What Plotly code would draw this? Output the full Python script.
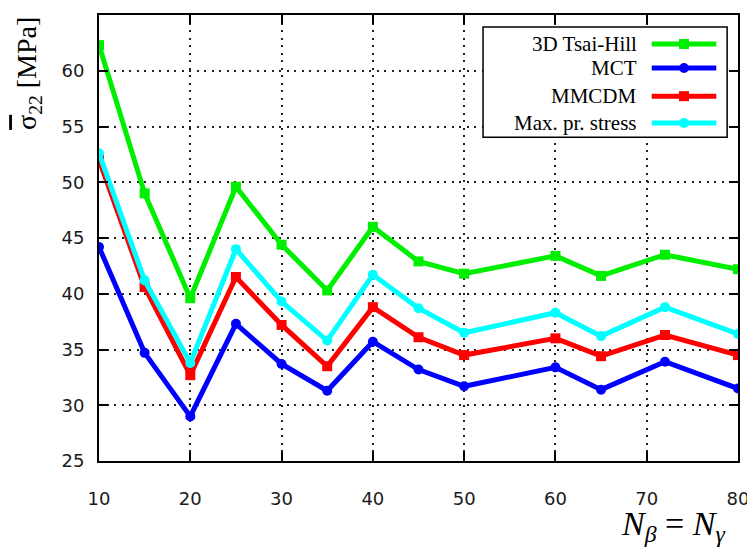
import plotly.graph_objects as go

N = [10, 15, 20, 25, 30, 35, 40, 45, 50, 60, 65, 72, 80]
tsai_hill = [62.3, 49.0, 39.6, 49.6, 44.4, 40.3, 46.0, 42.9, 41.8, 43.4, 41.6, 43.5, 42.2]
mct = [44.2, 34.7, 29.0, 37.3, 33.7, 31.3, 35.7, 33.2, 31.7, 33.4, 31.4, 33.9, 31.5]
mmcdm = [52.0, 40.6, 32.7, 41.5, 37.2, 33.5, 38.8, 36.1, 34.5, 36.0, 34.4, 36.3, 34.5]
max_pr = [52.6, 41.2, 33.8, 44.0, 39.3, 35.8, 41.7, 38.7, 36.5, 38.3, 36.2, 38.8, 36.4]

series = [
    ("3D Tsai-Hill", tsai_hill, "#00ee00", "square", 10),
    ("MCT", mct, "#0000ff", "circle", 10),
    ("MMCDM", mmcdm, "#ff0000", "square", 10),
    ("Max. pr. stress", max_pr, "#00ffff", "circle", 10),
]

x_ticks = [10, 20, 30, 40, 50, 60, 70, 80]
y_ticks = [25, 30, 35, 40, 45, 50, 55, 60, 65]

fig = go.Figure()
for name, vals, col, sym, ms in series:
    fig.add_trace(go.Scatter(
        x=N, y=vals, mode="lines+markers", name=name,
        line=dict(color=col, width=5),
        marker=dict(color=col, symbol=sym, size=ms),
        showlegend=False,
    ))

tickfont = dict(family="DejaVu Sans", size=18, color="#1a1a1a")
common = dict(showgrid=True, gridcolor="#222222", griddash="2px,5.5px", gridwidth=2,
              showline=True, linecolor="black", linewidth=2, mirror="ticks",
              ticks="inside", ticklen=9, tickwidth=2, tickcolor="black", tickfont=tickfont,
              zeroline=False, automargin=False)
fig.update_xaxes(range=[10, 80], tickvals=x_ticks, ticklabelstandoff=20, **common)
fig.update_yaxes(range=[25, 65], tickvals=y_ticks, ticklabelstandoff=9, **common)

# Custom legend (text on the left, sample on the right)
shapes = [dict(type="rect", xref="paper", yref="paper", x0=0.601, x1=0.983,
               y0=0.726, y1=0.973, fillcolor="white", line=dict(color="black", width=1.5),
               layer="above")]
annotations = []
row_y = [0.935, 0.881, 0.818, 0.758]
for (name, vals, col, sym, ms), yy in zip(series, row_y):
    shapes.append(dict(type="line", xref="paper", yref="paper", x0=0.865, x1=0.966,
                       y0=yy, y1=yy, line=dict(color=col, width=5), layer="above"))
    cx, dx = 0.9155, 0.0078
    dy = dx * 639 / 446
    shapes.append(dict(type="rect" if sym == "square" else "circle", xref="paper", yref="paper",
                       x0=cx - dx, x1=cx + dx, y0=yy - dy, y1=yy + dy,
                       fillcolor=col, line=dict(color=col, width=0), layer="above"))
    annotations.append(dict(x=0.845, y=yy, xref="paper", yref="paper", text=name,
                            showarrow=False, xanchor="right", yanchor="middle",
                            font=dict(family="Liberation Serif", size=21, color="black")))

annotations.append(dict(x=-0.1095, y=0.868, xref="paper", yref="paper",
                        text="<span style='text-decoration:overline'>σ</span><sub>22</sub> [MPa]",
                        textangle=-90, showarrow=False,
                        xanchor="center", yanchor="middle",
                        font=dict(family="Liberation Serif", size=28, color="black")))
annotations.append(dict(x=0.983, y=-0.095, xref="paper", yref="paper",
                        text="<i>N</i><sub><i>β</i></sub> = <i>N</i><sub><i>γ</i></sub>",
                        showarrow=False, xanchor="right", yanchor="top",
                        font=dict(family="Liberation Serif", size=34, color="black")))

fig.update_layout(
    width=747, height=544,
    margin=dict(l=91, r=17, t=7, b=91, autoexpand=False),
    paper_bgcolor="white", plot_bgcolor="white",
    shapes=shapes, annotations=annotations, showlegend=False,
)

fig.write_html("out.html")
